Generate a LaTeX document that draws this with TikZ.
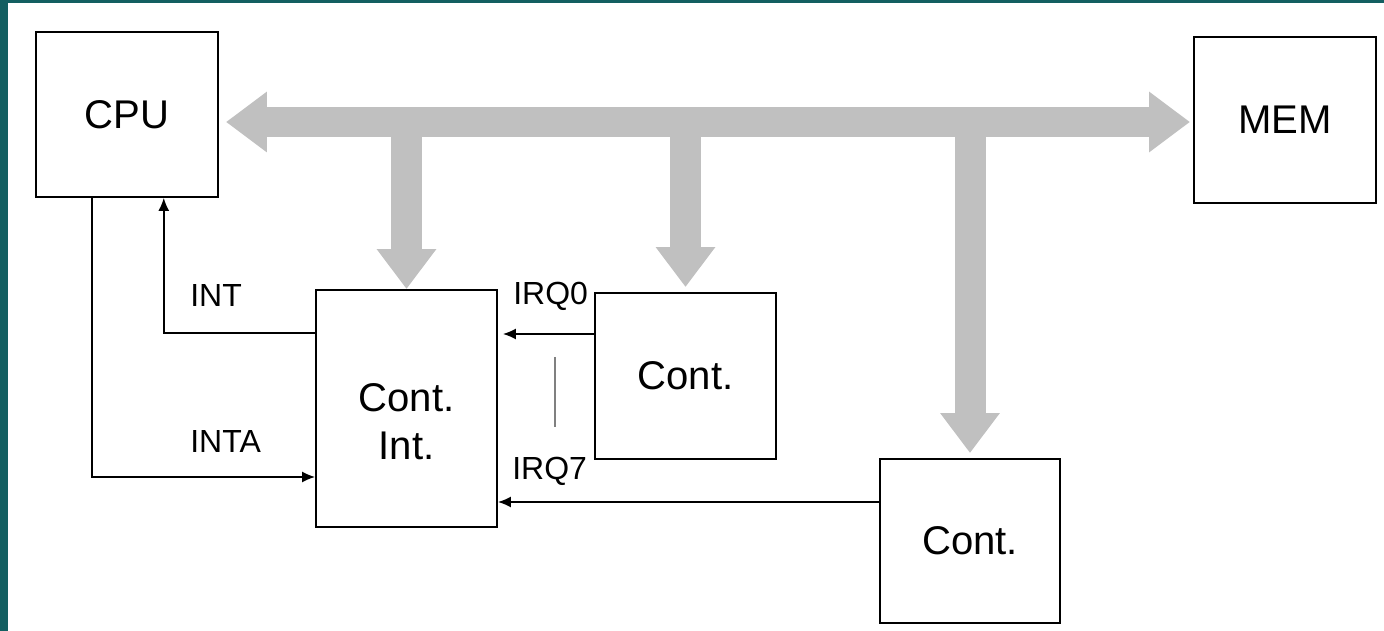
\documentclass[tikz,border=0pt]{standalone}
\usepackage{fontspec}
\setmainfont{Liberation Sans}
\usetikzlibrary{arrows.meta,positioning,calc}
\definecolor{frameteal}{HTML}{135F61}
\definecolor{busgray}{HTML}{C0C0C0}

\begin{document}
\begin{tikzpicture}[x=0.02cm,y=-0.02cm,
  box/.style={draw,line width=1.1pt,minimum width=3.64cm,minimum height=3.3cm,
              inner sep=0pt,align=center,font=\fontsize{22.8}{27.3}\selectfont},
  lbl/.style={anchor=base west,inner sep=0pt,font=\fontsize{18.2}{22}\selectfont},
  arr/.style={-{Latex[length=0.26cm,width=0.22cm]},line width=0.85pt},
  bus/.style={busgray,line width=0.62cm,-{Triangle[length=0.8cm,width=1.14cm]}}
]
  \useasboundingbox (0,0) rectangle (1384,631);
  \fill[frameteal] (0,0) rectangle (1384,631);
  \fill[white] (8,3) rectangle (1384,631);
  % Boxes
  \node[box] (cpu) at (127,114.5) {CPU};
  \node[box,minimum height=3.32cm] (mem) at (1285,120) {MEM};
  \node[box,minimum width=3.62cm,minimum height=4.74cm,text height=2.03cm] (pic) at (406.5,408.5) {Cont.\\Int.};
  \node[box,minimum width=3.62cm,minimum height=3.32cm] (devA) at (685.5,376) {Cont.};
  \node[box,minimum width=3.6cm,minimum height=3.28cm] (devB) at (970,541) {Cont.};
  % Bus
  \coordinate (busL) at (226,122);
  \coordinate (busR) at (1190,122);
  \draw[bus,line width=0.6cm,{Triangle[length=0.82cm,width=1.16cm]}-{Triangle[length=0.82cm,width=1.16cm]}] (busL) -- (busR);
  \draw[bus] (busL -| pic.north) -- (pic.north);
  \draw[bus,shorten >=0.1cm] (busL -| devA.north) -- (devA.north);
  \draw[bus,shorten >=0.1cm] (busL -| devB.north) -- (devB.north);
  % Interrupt lines
  \draw[arr] ($(pic.west)+(0,-75.5)$) -| ($(cpu.south west)!0.7!(cpu.south east)$);
  \draw[arr] ($(cpu.south west)!0.31!(cpu.south east)$) |- ($(pic.west)+(0,68.5)$);
  \coordinate (irq0) at ($(devA.west)+(0,-42)$);
  \coordinate (irq7) at ($(devB.west)+(0,-39)$);
  \draw[arr,shorten >=0.1cm] (irq0) -- (pic.east |- irq0);
  \draw[arr] (irq7) -- (pic.east |- irq7);
  \draw[gray,line width=0.8pt] (555,357) -- (555,427);
  % Labels
  \node[lbl] (intlbl) at (190,307) {INT};
  \node[lbl] (intalbl) at (190,453) {INTA};
  \node[lbl] (irq0lbl) at (513,305) {IRQ0};
  \node[lbl] (irq7lbl) at (512,480) {IRQ7};
\end{tikzpicture}
\end{document}
